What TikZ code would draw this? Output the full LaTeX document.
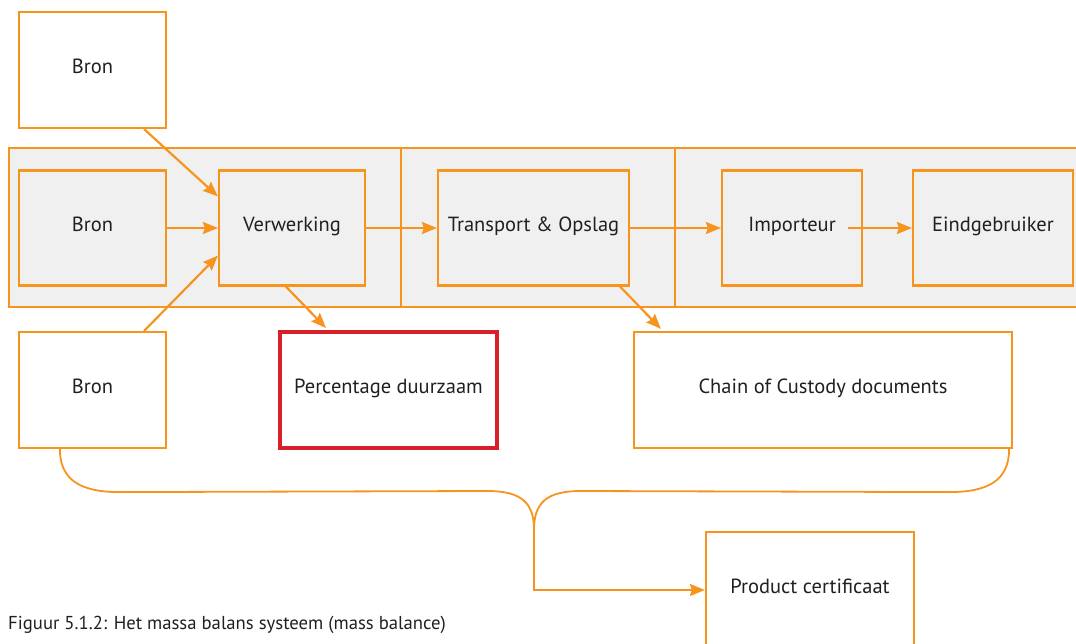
\documentclass[tikz,border=0pt]{standalone}
\usepackage{fontspec}
\setmainfont{PT Sans}
\usetikzlibrary{arrows.meta,calc}
\definecolor{chainorange}{HTML}{F7941D}
\definecolor{alertred}{HTML}{D7202A}
\definecolor{bandgray}{HTML}{F0F0F0}
\definecolor{inkgray}{HTML}{231F20}
\tikzset{
  stage/.style={draw=chainorange, line width=2.2pt, fill=bandgray, inner sep=0pt,
    font=\fontsize{20.5}{22}\selectfont, text=inkgray, text height=13pt, text depth=6pt},
  outbox/.style={stage, fill=white},
  flow/.style={draw=chainorange, line width=2.2pt,
    -{Stealth[length=15pt,width=12pt,inset=2pt]}},
  bracket/.style={draw=chainorange, line width=1.8pt},
}
\begin{document}
\begin{tikzpicture}[x=1pt,y=-1pt]
\useasboundingbox (0,0) rectangle (1076,644);

% supply chain band, split into three sections
\draw[draw=chainorange, line width=2.2pt, fill=bandgray] (9,148) rectangle (1090,307);
\draw[draw=chainorange, line width=2.2pt] (401,148) -- (401,307);
\draw[draw=chainorange, line width=2.2pt] (675,148) -- (675,307);

% sources and chain stages
\node[outbox, minimum width=147pt, minimum height=116pt] (topbron) at (92.5,70) {Bron};
\node[stage, minimum width=147pt, minimum height=115pt] (bron) at (92.5,228) {Bron};
\node[stage, minimum width=146pt, minimum height=115pt] (verw) at (292,228) {Verwerking};
\node[stage, minimum width=191pt, minimum height=115pt] (trans) at (533.5,228) {Transport \& Opslag};
\node[stage, minimum width=140pt, minimum height=115pt] (imp) at (792,228) {Importeur};
\node[stage, minimum width=160pt, minimum height=115pt] (eind) at (993,228) {Eindgebruiker};
\node[outbox, minimum width=147pt, minimum height=116pt] (botbron) at (92.5,390) {Bron};

% outputs
\node[outbox, draw=alertred, line width=4pt, minimum width=217pt, minimum height=116pt] (perc) at (388.5,390) {Percentage duurzaam};
\node[outbox, minimum width=378pt, minimum height=116pt] (coc) at (823,390) {Chain of Custody documents};
\node[outbox, minimum width=208pt, minimum height=116pt] (prod) at (810,590) {Product certificaat};

% material flow
\draw[flow] ($(topbron.south east)+(-23,0)$) -- ($(verw.north west)+(0,27)$);
\draw[flow] (bron.east) -- (verw.west);
\draw[flow] ($(botbron.north east)+(-23,0)$) -- ($(verw.south west)+(0,-31)$);
\draw[flow] (verw.east) -- (trans.west);
\draw[flow] (trans.east) -- (imp.west);
\draw[flow] ($(imp.east)+(-15,0)$) -- (eind.west);
\draw[flow] ($(verw.south west)+(68,0)$) -- ($(perc.north west)+(48,-2)$);
\draw[flow] ($(trans.south east)+(-10,0)$) -- ($(coc.north west)+(28,-2)$);

% bracket joining source and documents into the certificate
\coordinate (bl) at ($(botbron.south west)+(42,0)$);
\coordinate (br) at ($(coc.south east)+(-4,0)$);
\coordinate (jn) at (534,530);
\draw[bracket] (bl) .. controls ($(bl)+(0,32)$) and ($(bl)+(22,43)$) .. ($(bl)+(60,43)$)
  -- (487,491) .. controls (522,491) and (534,503) .. (jn);
\draw[bracket] (br) .. controls ($(br)+(0,32)$) and ($(br)+(-22,43)$) .. ($(br)+(-60,43)$)
  -- (581,491) .. controls (546,491) and (534,503) .. (jn);
\draw[flow] (jn) |- (prod.west);

% caption
\node[anchor=base west, inner sep=0pt, text=inkgray, font=\fontsize{18.7}{21}\selectfont] (cap) at (8,629)
  {Figuur 5.1.2: Het massa balans systeem (mass balance)};
\end{tikzpicture}
\end{document}
